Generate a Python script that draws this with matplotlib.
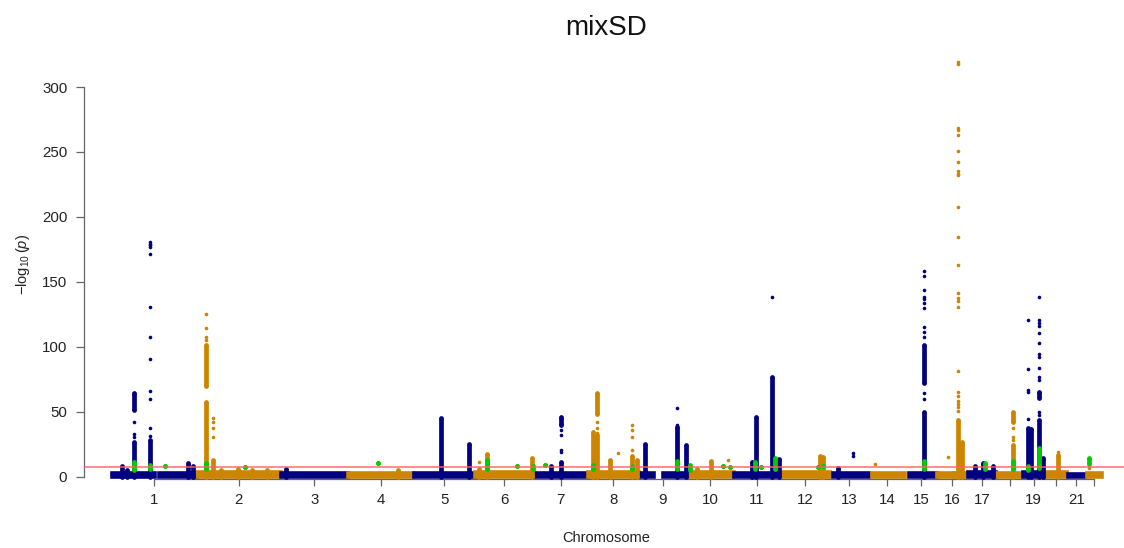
import matplotlib
matplotlib.use("Agg")
import numpy as np
import matplotlib.pyplot as plt

plt.rcParams['font.family'] = ['Liberation Sans', 'DejaVu Sans']
plt.rcParams['mathtext.fontset'] = 'custom'
plt.rcParams['mathtext.rm'] = 'Liberation Sans'
plt.rcParams['mathtext.it'] = 'Liberation Sans:italic'

# chromosome widths on the genome axis (Mb)
chrom_len = [247, 244, 195, 192, 178, 172, 157, 148, 140, 137, 134,
             145, 114, 105, 93, 90, 82, 79, 61, 67, 52, 50]
tick_labels = ['1', '2', '3', '4', '5', '6', '7', '8', '9', '10', '11',
               '12', '13', '14', '15', '16', '17', '', '19', '', '21', '']
# top of the dense background of SNPs, -log10(p)
band_top = [2.5, 3.5, 3.0, 3.0, 2.8, 3.5, 3.0, 3.5, 2.5, 3.5, 3.0,
            3.5, 2.5, 3.0, 3.0, 3.0, 3.5, 3.0, 3.5, 3.5, 2.0, 3.0]
# stretches without SNPs (centromeres, acrocentric arms)
gap_chr = [1, 9, 13, 14, 15, 16, 21, 22]
gap_start = [125, 45, 0, 0, 0, 46, 0, 0]
gap_end = [136, 72, 9, 9, 12, 50, 3, 5]

# dense columns of SNPs: chromosome, Mb, low, high
run_chr = [1, 1, 1, 1, 2, 2, 2, 2, 3, 4, 6, 7, 8, 8, 10, 10, 11, 11, 12, 12, 13,
           17, 17, 17,
           1, 1, 1, 2, 2, 2, 5, 5, 6, 6, 7, 7, 8, 8, 8, 8, 9, 9, 9, 11, 11,
           15, 15, 16, 16, 18, 18, 19, 19, 19, 19, 19, 20]
run_pos = [29, 45, 221, 236, 70, 120, 160, 205, 15, 146, 12, 50, 64, 143, 29, 70, 52, 132, 116, 124, 23,
           20, 44, 73,
           64, 64, 112, 28, 28, 47, 79, 160, 35, 166, 79, 79, 26, 26, 14.5, 129.5, 17.5, 111, 138, 64, 111,
           54, 54, 62, 73.6, 50, 50, 14, 23, 47, 47, 57, 41.6]
run_lo = [0, 0, 0, 0, 0, 0, 0, 0, 0, 0, 0, 0, 0, 0, 0, 0, 0, 0, 0, 0, 0,
          0, 0, 0,
          0, 51.5, 0, 0, 69.5, 0, 0, 0, 0, 0, 0, 39.5, 0, 48, 0, 0, 0, 0, 0, 0, 0,
          0, 71.8, 0, 0, 0, 42.3, 0, 0, 0, 60.3, 0, 0]
run_hi = [8, 5, 10.5, 8.5, 5.5, 6, 5, 5.5, 6, 5, 6, 8.5, 12.5, 12.5, 6, 12, 11, 13.5, 16, 15.5, 7,
          8, 10.5, 8.5,
          27, 64.5, 28, 57.5, 101, 13, 45.5, 25, 17.3, 14.5, 11.5, 46, 32, 64.2, 34.5, 16, 25, 38.5, 24.5, 45.7, 76.7,
          50, 101.3, 43.6, 26.9, 24.4, 50, 37.2, 37, 43.6, 65.4, 14.2, 16.5]

# isolated SNPs above the background
peak_chr = [1, 1, 2, 2, 6, 7, 8, 8, 8, 9, 10, 11, 13, 14, 15, 16, 16, 18, 19, 19, 20, 22]
peak_pos = [64, 112, 28, 47, 12, 79, 26, 87, 129.5, 111, 119, 111, 67, 17.5, 54, 62, 33, 50, 14, 47, 41.6, 12.5]
peak_vals = [
    [30.5, 32.8, 42.3],
    [31.3, 37.7, 59.5, 66.2, 90.8, 107.2, 130.8, 171.8, 176.9, 178.2, 179.5, 180.8],
    [105, 107.7, 114.6, 125.2],
    [30.8, 37.7, 42.3, 45.2],
    [11.5],
    [19.2, 20.5, 32, 35.9],
    [33.5, 37.5, 42],
    [18.5],
    [20.5, 30.5, 35.9, 39.8],
    [39.8, 52.6],
    [12.8],
    [138.2],
    [15.9, 18.5],
    [9.5],
    [60, 64.2, 107.7, 111.3, 114.9, 130, 133.4, 136.5, 138.5, 143.6, 154.6, 158.5],
    [50.8, 53.4, 56.2, 58.2, 62.3, 64.9, 81.3, 130.8, 135.4, 137.2, 141.1, 162.6, 184.2,
     207.7, 232.1, 233.4, 235.2, 242.1, 250.5, 263.4, 267.2, 268.8, 318, 319.5],
    [15.4],
    [28.2, 30.8, 37.2],
    [44.2, 65.4, 66.7, 82.6, 120.5],
    [47.5, 50, 74.4, 76.9, 83.8, 91.8, 94.4, 102.6, 110.3, 116.2, 118.5, 120.5, 138.5],
    [19.2],
    [6.7],
]

# highlighted SNPs (green)
green_chr = [1, 1, 1, 2, 2, 4, 6, 6, 6, 7, 8, 8, 9, 10, 10, 10, 11, 11, 11, 12, 12, 15, 17, 18, 19, 19, 22]
green_pos = [64, 112, 154, 28, 141, 87, 35, 122, 169, 32, 14.5, 129.5, 111, 9, 105, 125, 61, 80, 119,
             112, 125, 54, 49.5, 50, 14, 47, 12.5]
green_lo = [5, 6, 8.5, 6, 7.5, 10.3, 6, 8.2, 6, 9, 6, 6, 6, 5.5, 8.2, 7.5, 6, 7.5, 6,
            7.5, 8.5, 6, 6, 6, 5, 6.7, 9.5]
green_hi = [11, 9, 8.5, 10.5, 7.5, 10.3, 13, 8.2, 8, 9, 9, 8.5, 12, 9.2, 8.2, 7.5, 11.5, 7.5, 14,
            7.5, 8.5, 11.8, 10.3, 12, 8, 22, 14]

genome_line = 7.3
navy = '#000080'
orange = '#CD8500'
green = '#00CC00'
chrom_col = [navy if i % 2 == 0 else orange for i in range(len(chrom_len))]

cum_start = np.concatenate([[0], np.cumsum(chrom_len)[:-1]])
mids = cum_start + np.array(chrom_len) / 2.0

fig = plt.figure(figsize=(11.24, 5.48), dpi=100)
ax = fig.add_axes([84 / 1124, 1 - 479 / 548, 1040 / 1124, 439 / 548])

lw_dot = 2.6
s_dot = lw_dot ** 2
lw_col = 3.4

# background band, chromosome by chromosome
for i, L in enumerate(chrom_len):
    cuts = sorted((gs, ge) for gc, gs, ge in zip(gap_chr, gap_start, gap_end) if gc == i + 1)
    segs = []
    a = 0
    for gs, ge in cuts:
        if gs > a:
            segs.append((a, gs))
        a = max(a, ge)
    if a < L:
        segs.append((a, L))
    for s0, s1 in segs:
        ax.bar(cum_start[i] + s0, band_top[i], width=s1 - s0, bottom=0, align='edge',
               color=chrom_col[i], edgecolor=chrom_col[i], linewidth=lw_dot, zorder=2)

# dense columns
for c, p, lo, hi in zip(run_chr, run_pos, run_lo, run_hi):
    x = cum_start[c - 1] + p
    ax.vlines(x, lo, hi, color=chrom_col[c - 1], linewidth=lw_col, zorder=3)
    ax.scatter([x, x], [lo, hi], s=lw_col ** 2, color=chrom_col[c - 1], linewidths=0, zorder=3)

# isolated SNPs
for c, p, vals in zip(peak_chr, peak_pos, peak_vals):
    x = cum_start[c - 1] + p
    ax.scatter([x] * len(vals), vals, s=s_dot, color=chrom_col[c - 1], linewidths=0, zorder=3)

# highlighted SNPs
for c, p, lo, hi in zip(green_chr, green_pos, green_lo, green_hi):
    x = cum_start[c - 1] + p
    if hi > lo:
        ax.vlines(x, lo, hi, color=green, linewidth=lw_col, zorder=4)
    ax.scatter([x, x], [lo, hi], s=lw_col ** 2, color=green, linewidths=0, zorder=4)

ax.axhline(genome_line, color='#ff6060', linewidth=1.2, alpha=0.85, zorder=5)

ax.set_xlim(-81.5, 2945.3)
ax.set_ylim(-1.8, 336.2)

for side in ['top', 'right']:
    ax.spines[side].set_visible(False)
ax.spines['left'].set_bounds(0, 300)
ax.spines['bottom'].set_bounds(mids[0], mids[-1])
for side in ['left', 'bottom']:
    ax.spines[side].set_color('#666666')
    ax.spines[side].set_linewidth(0.9)

ax.set_yticks([0, 50, 100, 150, 200, 250, 300])
ax.set_xticks(mids)
ax.set_xticklabels(tick_labels)
ax.tick_params(axis='y', length=6, width=0.9, color='#666666', pad=6,
               labelsize=10.8, labelcolor='#222222')
ax.tick_params(axis='x', length=5, width=0.9, color='#666666', pad=5,
               labelsize=10.8, labelcolor='#222222')

fig.text(606.5 / 1124, 1 - 28 / 548, 'mixSD', ha='center', va='center', fontsize=20, color='#111111')
fig.text(606 / 1124, 1 - 538 / 548, 'Chromosome', ha='center', va='center', fontsize=10.5, color='#222222')
fig.text(23 / 1124, 1 - 265 / 548, r'$-\log_{10}(p)$', ha='center', va='center', rotation=90,
         fontsize=10.5, color='#222222')

fig.savefig('out.png', dpi=100)
